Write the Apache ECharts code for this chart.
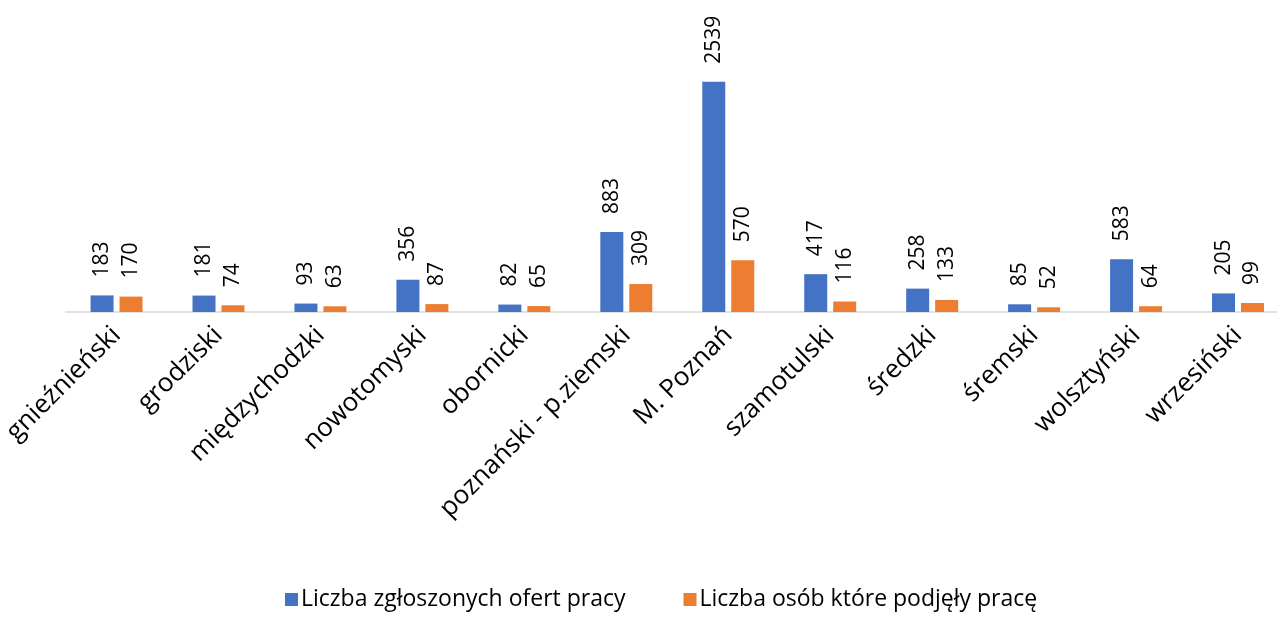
<!DOCTYPE html>
<html>
<head>
<meta charset="utf-8">
<script src="https://cdn.jsdelivr.net/npm/echarts@6/dist/echarts.min.js"></script>
<style>
  html, body { margin: 0; padding: 0; background: #fff; overflow: hidden; }
  #main { width: 1300px; height: 617px; }
</style>
</head>
<body>
<div id="main"></div>
<script>
var categories = ['gnieźnieński', 'grodziski', 'międzychodzki', 'nowotomyski', 'obornicki',
    'poznański - p.ziemski', 'M. Poznań', 'szamotulski', 'średzki', 'śremski', 'wolsztyński', 'wrzesiński'];
var ofertyPracy = [183, 181, 93, 356, 82, 883, 2539, 417, 258, 85, 583, 205];
var podjelyPrace = [170, 74, 63, 87, 65, 309, 570, 116, 133, 52, 64, 99];
var seriesNames = ['Liczba zgłoszonych ofert pracy', 'Liczba osób które podjęły pracę'];

var font = '"Open Sans", "Noto Sans", sans-serif';

var chart = echarts.init(document.getElementById('main'));

// etykiety wartości pionowo nad słupkami
var valueLabel = {
    show: true,
    position: 'top',
    rotate: 90,
    align: 'left',
    verticalAlign: 'middle',
    distance: 18,
    color: '#000',
    fontFamily: font,
    fontSize: 21
};

chart.setOption({
    animation: false,
    grid: {
        left: 61,
        width: 1228,
        top: 40,
        bottom: 305,
        containLabel: false
    },
    legend: {
        bottom: 1,
        left: 280,
        itemWidth: 13,
        itemHeight: 13,
        itemGap: 58,
        icon: 'rect',
        textStyle: { fontFamily: font, fontSize: 23, color: '#000', padding: [0, 0, 0, -2] },
        data: seriesNames
    },
    xAxis: {
        type: 'category',
        data: categories,
        axisLine: { lineStyle: { color: '#D9D9D9', width: 1.5 } },
        axisTick: { show: false },
        axisLabel: {
            rotate: 45,
            margin: 19,
            interval: 0,
            color: '#000',
            fontFamily: font,
            fontSize: 26
        }
    },
    yAxis: {
        type: 'value',
        min: 0,
        max: 3000,
        show: false,
        splitLine: { show: false }
    },
    series: [{
        name: seriesNames[0],
        type: 'bar',
        data: ofertyPracy,
        barWidth: 23,
        barGap: '26%',
        itemStyle: { color: '#4472C4' },
        label: valueLabel
    }, {
        name: seriesNames[1],
        type: 'bar',
        data: podjelyPrace,
        barWidth: 23,
        itemStyle: { color: '#ED7D31' },
        label: valueLabel
    }]
});
</script>
</body>
</html>
